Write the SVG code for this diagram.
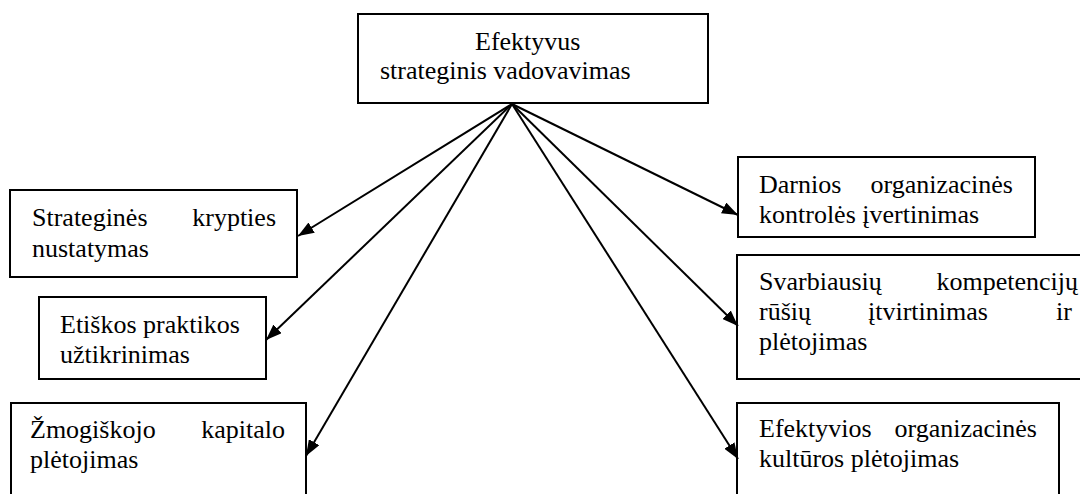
<svg xmlns="http://www.w3.org/2000/svg" width="1080" height="494" viewBox="0 0 1080 494">
  <style>
    .box { fill: #fff; stroke: #000; stroke-width: 2; }
    .lbl { font-family: "Liberation Serif", "Times New Roman", Times, serif; font-size: 26px; fill: #000; }
    .end { text-anchor: end; }
    .link { stroke: #000; stroke-width: 2; fill: none; marker-end: url(#arrow); }
  </style>
  <defs>
    <marker id="arrow" markerWidth="16" markerHeight="12" refX="16" refY="6" orient="auto" markerUnits="userSpaceOnUse">
      <path d="M0,0 L16,6 L0,12 Z" fill="#000"/>
    </marker>
  </defs>
  <rect width="1080" height="494" fill="#fff"/>

  <!-- central node -->
  <g id="n-center" font-family="Liberation Serif, serif">
    <rect class="box" x="358" y="14" width="350" height="89"/>
    <text class="lbl" x="475" y="50">Efektyvus</text>
    <text class="lbl" x="380" y="79">strateginis vadovavimas</text>
  </g>

  <!-- left column -->
  <g id="n-kryptis" font-family="Liberation Serif, serif">
    <rect class="box" x="10" y="190" width="287" height="87"/>
    <text class="lbl" x="32" y="226">Strateginės</text>
    <text class="lbl end" x="276" y="226">krypties</text>
    <text class="lbl" x="32" y="257">nustatymas</text>
  </g>
  <g id="n-etika" font-family="Liberation Serif, serif">
    <rect class="box" x="39" y="297" width="227" height="82"/>
    <text class="lbl" x="60" y="333">Etiškos praktikos</text>
    <text class="lbl" x="60" y="363">užtikrinimas</text>
  </g>
  <g id="n-kapitalas" font-family="Liberation Serif, serif">
    <rect class="box" x="11" y="403" width="295" height="100"/>
    <text class="lbl" x="30" y="438">Žmogiškojo</text>
    <text class="lbl end" x="285" y="438">kapitalo</text>
    <text class="lbl" x="30" y="468">plėtojimas</text>
  </g>

  <!-- right column -->
  <g id="n-kontrole" font-family="Liberation Serif, serif">
    <rect class="box" x="738" y="157" width="297" height="80"/>
    <text class="lbl" x="759" y="193">Darnios</text>
    <text class="lbl end" x="1013" y="193">organizacinės</text>
    <text class="lbl" x="759" y="223">kontrolės įvertinimas</text>
  </g>
  <g id="n-kompetencijos" font-family="Liberation Serif, serif">
    <rect class="box" x="737" y="255" width="360" height="124"/>
    <text class="lbl" x="759" y="290">Svarbiausių</text>
    <text class="lbl end" x="1078" y="290">kompetencijų</text>
    <text class="lbl" x="759" y="320">rūšių</text>
    <text class="lbl" x="868" y="320">įtvirtinimas</text>
    <text class="lbl end" x="1072" y="320">ir</text>
    <text class="lbl" x="759" y="350">plėtojimas</text>
  </g>
  <g id="n-kultura" font-family="Liberation Serif, serif">
    <rect class="box" x="737" y="403" width="322" height="100"/>
    <text class="lbl" x="759" y="437">Efektyvios</text>
    <text class="lbl end" x="1037" y="437">organizacinės</text>
    <text class="lbl" x="759" y="467">kultūros plėtojimas</text>
  </g>

  <!-- connectors: all fan out from the bottom of the central node -->
  <g id="connectors">
    <line class="link" x1="512" y1="104" x2="298" y2="236"/>
    <line class="link" x1="512" y1="104" x2="266" y2="340"/>
    <line class="link" x1="512" y1="104" x2="306" y2="456"/>
    <line class="link" x1="512" y1="104" x2="738" y2="215"/>
    <line class="link" x1="512" y1="104" x2="738" y2="326"/>
    <line class="link" x1="512" y1="104" x2="738" y2="459"/>
  </g>
</svg>
